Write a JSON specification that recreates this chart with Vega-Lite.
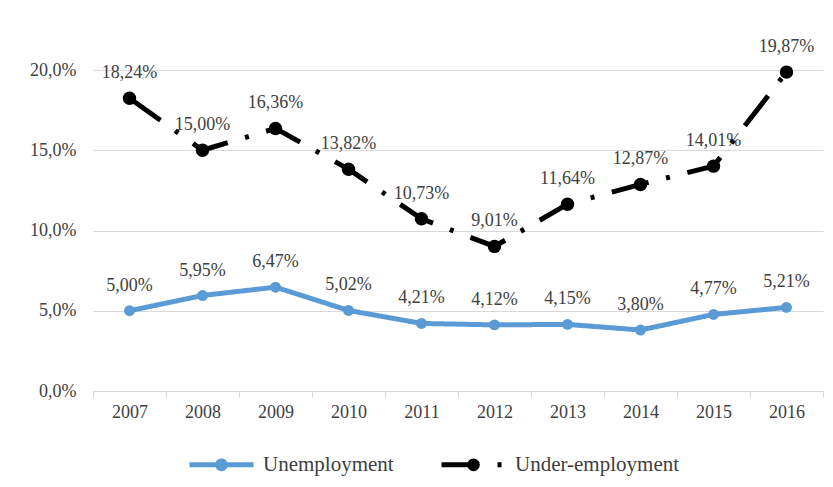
{
  "$schema": "https://vega.github.io/schema/vega-lite/v6.json",
  "width": 730,
  "height": 321,
  "autosize": {"type": "none"},
  "padding": {"left": 93, "top": 70, "right": 10, "bottom": 96},
  "background": "white",
  "config": {
    "locale": {"number": {"decimal": ",", "thousands": ".", "grouping": [3], "currency": ["", " €"]}},
    "view": {"stroke": null},
    "font": "Liberation Serif",
    "legend": {
      "orient": "none",
      "legendX": 94,
      "legendY": 360,
      "direction": "horizontal",
      "padding": 0,
      "columnPadding": 37,
      "labelOffset": 7,
      "labelFontSize": 21,
      "labelLimit": 400,
      "labelFont": "Liberation Serif",
      "labelColor": "#404040",
      "symbolType": "M-1,0H1M-0.12,0a0.12,0.12 0 1,0 0.24,0a0.12,0.12 0 1,0 -0.24,0Z",
      "symbolSize": 4096,
      "symbolStrokeWidth": 5
    }
  },
  "data": {
    "values": [
      {"year": "2007", "series": "Unemployment", "value": 0.05},
      {"year": "2008", "series": "Unemployment", "value": 0.0595},
      {"year": "2009", "series": "Unemployment", "value": 0.0647},
      {"year": "2010", "series": "Unemployment", "value": 0.0502},
      {"year": "2011", "series": "Unemployment", "value": 0.0421},
      {"year": "2012", "series": "Unemployment", "value": 0.0412},
      {"year": "2013", "series": "Unemployment", "value": 0.0415},
      {"year": "2014", "series": "Unemployment", "value": 0.038},
      {"year": "2015", "series": "Unemployment", "value": 0.0477},
      {"year": "2016", "series": "Unemployment", "value": 0.0521},
      {"year": "2007", "series": "Under-employment", "value": 0.1824},
      {"year": "2008", "series": "Under-employment", "value": 0.15},
      {"year": "2009", "series": "Under-employment", "value": 0.1636},
      {"year": "2010", "series": "Under-employment", "value": 0.1382},
      {"year": "2011", "series": "Under-employment", "value": 0.1073},
      {"year": "2012", "series": "Under-employment", "value": 0.0901},
      {"year": "2013", "series": "Under-employment", "value": 0.1164},
      {"year": "2014", "series": "Under-employment", "value": 0.1287},
      {"year": "2015", "series": "Under-employment", "value": 0.1401},
      {"year": "2016", "series": "Under-employment", "value": 0.1987}
    ]
  },
  "encoding": {
    "x": {
      "field": "year",
      "type": "ordinal",
      "scale": {"type": "band", "paddingInner": 0, "paddingOuter": 0},
      "axis": {
        "title": null,
        "labelAngle": 0,
        "domainColor": "#d9d9d9",
        "tickColor": "#d9d9d9",
        "tickSize": 6,
        "tickBand": "extent",
        "labelFontSize": 18,
        "labelFont": "Liberation Serif",
        "labelPadding": 6,
        "labelColor": "#404040",
        "grid": false
      }
    },
    "y": {
      "field": "value",
      "type": "quantitative",
      "scale": {"domain": [0, 0.2]},
      "axis": {
        "title": null,
        "values": [0, 0.05, 0.1, 0.15, 0.2],
        "format": ".1%",
        "domain": false,
        "ticks": false,
        "gridColor": "#d9d9d9",
        "gridWidth": 1,
        "labelFontSize": 18,
        "labelFont": "Liberation Serif",
        "labelColor": "#404040",
        "labelPadding": 17
      }
    }
  },
  "layer": [
    {
      "mark": {"type": "line", "strokeWidth": 5, "strokeCap": "butt", "strokeJoin": "round"},
      "encoding": {
        "color": {
          "field": "series",
          "type": "nominal",
          "scale": {"domain": ["Unemployment", "Under-employment"], "range": ["#5B9BD5", "#000000"]},
          "legend": {
            "title": null,
            "encode": {
              "symbols": {
                "update": {
                  "fill": {"scale": "color", "field": "value"}
                }
              }
            }
          }
        },
        "strokeDash": {
          "field": "series",
          "type": "nominal",
          "scale": {"domain": ["Unemployment", "Under-employment"], "range": [[1, 0], [38, 18, 4, 18]]}
        }
      }
    },
    {
      "transform": [{"filter": "datum.series === 'Unemployment'"}],
      "mark": {"type": "point", "filled": true, "opacity": 1, "size": 120, "color": "#5B9BD5"}
    },
    {
      "transform": [{"filter": "datum.series === 'Under-employment'"}],
      "mark": {"type": "point", "filled": true, "opacity": 1, "size": 180, "color": "#000000"}
    },
    {
      "mark": {"type": "text", "dy": -25, "fontSize": 18, "color": "#404040", "font": "Liberation Serif"},
      "encoding": {
        "text": {"field": "value", "type": "quantitative", "format": ".2%"}
      }
    }
  ]
}
